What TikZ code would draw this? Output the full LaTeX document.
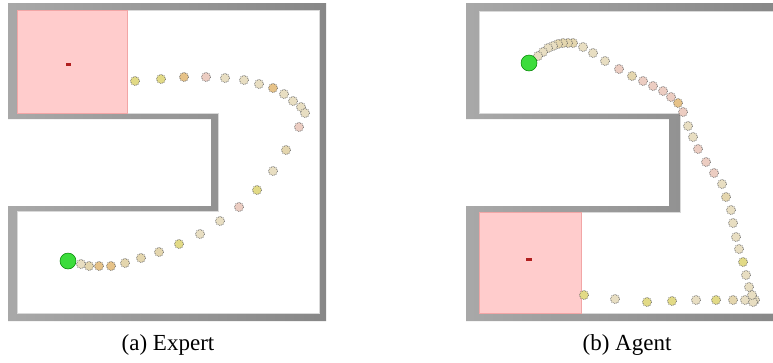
\documentclass[tikz,border=0pt]{standalone}
\usepackage{fontspec}
\setmainfont{Liberation Serif}
\definecolor{wallleft}{gray}{0.66}
\definecolor{wallright}{gray}{0.53}
\definecolor{goalpink}{HTML}{FFCCCC}
\definecolor{goaledge}{HTML}{F2A6A6}
\definecolor{goaldot}{HTML}{B01E1E}
\definecolor{agentgreen}{HTML}{3CDC3C}
\definecolor{tn}{HTML}{E4D6AE}
\definecolor{yl}{HTML}{E2DA86}
\definecolor{pk}{HTML}{ECCDC2}
\definecolor{cr}{HTML}{E8DEC2}
\definecolor{og}{HTML}{E6C288}
\tikzset{
  wall/.style={even odd rule, left color=wallleft, right color=wallright},
  goal/.style={fill=goalpink, draw=goaledge, line width=0.8pt},
  trail/.style={fill=#1, draw=black!65, line width=0.7pt, densely dotted},
  agent/.style={fill=agentgreen, draw=green!50!black, line width=0.5pt},
  caption/.style={font=\fontsize{23}{27}\selectfont}
}
\begin{document}
\begin{tikzpicture}[x=1pt,y=-1pt]
\clip (0,0) rectangle (773,362);
% (a) expert maze
\shade[wall] (8,3) -- (326,3) -- (326,321) -- (8,321) -- (8,206) -- (211,206) -- (211,119) -- (8,119) -- cycle
  (17,10) -- (319,10) -- (319,313) -- (17,313) -- (17,211) -- (218,211) -- (218,113) -- (17,113) -- cycle;
\draw[gray!30, line width=1pt] (17,10) -- (319,10) -- (319,313) -- (17,313) -- (17,211) -- (218,211) -- (218,113) -- (17,113) -- cycle;
\draw[goal] (17.5,10.5) rectangle (127,113);
\fill[goaldot] (66,62.5) rectangle (71,65.5);
\foreach \x/\y/\c in {135/81/yl, 161/79/yl, 184/77/og, 206/77/pk, 225/78/cr, 244/80/cr,
    259/84/cr, 273/88/og, 284/94/cr, 293/101/cr, 301/107/cr, 305/113/cr, 299/127/pk,
    286/150/tn, 273/171/cr, 257/190/yl, 239/207/pk, 220/221/cr, 200/234/cr, 179/244/yl,
    159/252/tn, 141/258/tn, 125/263/tn, 111/266/og, 99/266/og, 89/266/tn, 81/264/cr}
  \draw[trail=\c] (\x,\y) circle (4.5);
\draw[agent] (68,261) circle (8);
% (b) agent maze
\shade[wall] (466,3) -- (784,3) -- (784,321) -- (466,321) -- (466,206) -- (669,206) -- (669,119) -- (466,119) -- cycle
  (479,11) -- (777,11) -- (777,313) -- (479,313) -- (479,212) -- (680,212) -- (680,113) -- (479,113) -- cycle;
\draw[gray!30, line width=1pt] (479,11) -- (777,11) -- (777,313) -- (479,313) -- (479,212) -- (680,212) -- (680,113) -- (479,113) -- cycle;
\draw[goal] (479.5,212.5) rectangle (581,313);
\fill[goaldot] (526,257.5) rectangle (532,260.5);
\foreach \x/\y/\c in {755/300/cr, 745/300/cr, 733/300/tn, 716/300/yl, 696/300/cr, 672/301/yl,
    647/302/yl, 615/299/cr, 584/295/yl,
    753/302/cr, 752/295/cr, 749/287/cr, 746/275/cr, 743/262/yl, 739/249/cr, 736/237/cr,
    733/223/cr, 731/210/cr, 726/197/tn, 722/184/cr, 714/173/pk, 706/162/pk, 698/149/pk,
    693/137/cr, 688/126/cr, 683/112/pk, 678/103/og, 671/97/pk, 663/91/pk, 653/86/pk,
    643/81/pk, 632/76/tn, 619/69/pk, 605/61/cr, 593/53/cr, 583/47/cr, 573/43/tn,
    568/43/tn, 563/43/tn, 558/44/tn, 553/46/cr, 548/48/cr, 543/52/cr, 538/56/cr}
  \draw[trail=\c] (\x,\y) circle (4.5);
\draw[agent] (529,63) circle (8);
% captions
\node[caption] (capa) at (168,345) {(a) Expert};
\node[caption] (capb) at (627,345) {(b) Agent};
\end{tikzpicture}
\end{document}
